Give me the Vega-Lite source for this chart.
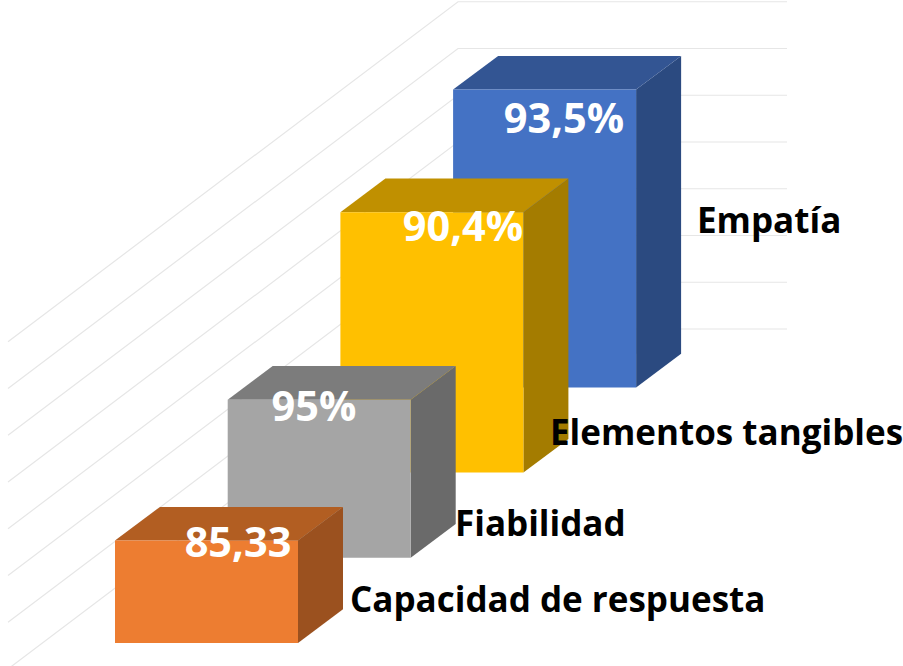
{"$schema":"https://vega.github.io/schema/vega-lite/v6.json","width":903,"height":666,"padding":0,"autosize":"none","background":"white","config":{"view":{"stroke":null}},
"datasets":{"bars":[{"categoria":"Capacidad de respuesta","etiqueta":"85,33","orden":0,"altura":2.19},{"categoria":"Fiabilidad","etiqueta":"95%","orden":1,"altura":3.38},{"categoria":"Elementos tangibles","etiqueta":"90,4%","orden":2,"altura":5.57},{"categoria":"Empatía","etiqueta":"93,5%","orden":3,"altura":6.37}],"grid":[{"nivel":0},{"nivel":1},{"nivel":2},{"nivel":3},{"nivel":4},{"nivel":5},{"nivel":6},{"nivel":7}]},
"layer":[
{"data":{"name":"grid"},"transform":[{"calculate":"0","as":"a"},{"calculate":"1","as":"b"},{"calculate":"2","as":"c"},{"fold":["a","b","c"],"as":["punto","p"]},{"calculate":"[8,458,787][datum.p]","as":"gx"},{"calculate":"329-46.75*datum.nivel+(datum.p==0?340:0)","as":"gy"}],"mark":{"type":"line","color":"#e6e6e6","strokeWidth":1.2,"clip":true},"encoding":{"x":{"field":"gx","type":"quantitative","sort":null,"scale":{"domain":[0,903]},"axis":null},"y":{"field":"gy","type":"quantitative","scale":{"domain":[666,0]},"axis":null},"detail":{"field":"nivel"},"order":{"field":"p"}}},
{"data":{"name":"bars"},"transform":[{"calculate":"0","as":"cerca"},{"calculate":"1","as":"lejos"},{"fold":["cerca","lejos"],"as":["cara","d"]},{"calculate":"115+112.7*datum.orden+45*datum.d","as":"px"},{"calculate":"datum.px+183","as":"pxr"},{"calculate":"643-85.2*datum.orden-33.7*datum.d","as":"py"},{"calculate":"datum.py-datum.altura*46.75","as":"ptop"},{"calculate":"[238,314,463,564][datum.orden]","as":"lx"},{"calculate":"[557,421,241,133][datum.orden]","as":"ly"},{"calculate":"[350,455,550,697][datum.orden]","as":"cx"},{"calculate":"[612,536,445,233][datum.orden]","as":"cy"}],
"layer":[
{"transform":[{"filter":"datum.orden==3"}],"layer":[
{"mark":{"type":"area","orient":"vertical","color":"#2b4a80"},"encoding":{"x":{"field":"pxr","type":"quantitative","scale":{"domain":[0,903]},"axis":null},"y":{"field":"ptop","type":"quantitative","scale":{"domain":[666,0]},"axis":null},"y2":{"field":"py"}}},
{"mark":{"type":"area","orient":"horizontal","color":"#335593"},"encoding":{"y":{"field":"ptop","type":"quantitative","scale":{"domain":[666,0]},"axis":null},"x":{"field":"px","type":"quantitative","scale":{"domain":[0,903]},"axis":null},"x2":{"field":"pxr"}}},
{"transform":[{"filter":"datum.d==0"}],"mark":{"type":"rect","color":"#4472c4"},"encoding":{"x":{"field":"px","type":"quantitative","scale":{"domain":[0,903]},"axis":null},"x2":{"field":"pxr"},"y":{"field":"ptop","type":"quantitative","scale":{"domain":[666,0]},"axis":null},"y2":{"field":"py"}}}]},
{"transform":[{"filter":"datum.orden==2"}],"layer":[
{"mark":{"type":"area","orient":"vertical","color":"#a47c00"},"encoding":{"x":{"field":"pxr","type":"quantitative","scale":{"domain":[0,903]},"axis":null},"y":{"field":"ptop","type":"quantitative","scale":{"domain":[666,0]},"axis":null},"y2":{"field":"py"}}},
{"mark":{"type":"area","orient":"horizontal","color":"#c09000"},"encoding":{"y":{"field":"ptop","type":"quantitative","scale":{"domain":[666,0]},"axis":null},"x":{"field":"px","type":"quantitative","scale":{"domain":[0,903]},"axis":null},"x2":{"field":"pxr"}}},
{"transform":[{"filter":"datum.d==0"}],"mark":{"type":"rect","color":"#ffc000"},"encoding":{"x":{"field":"px","type":"quantitative","scale":{"domain":[0,903]},"axis":null},"x2":{"field":"pxr"},"y":{"field":"ptop","type":"quantitative","scale":{"domain":[666,0]},"axis":null},"y2":{"field":"py"}}}]},
{"transform":[{"filter":"datum.orden==1"}],"layer":[
{"mark":{"type":"area","orient":"vertical","color":"#6a6a6a"},"encoding":{"x":{"field":"pxr","type":"quantitative","scale":{"domain":[0,903]},"axis":null},"y":{"field":"ptop","type":"quantitative","scale":{"domain":[666,0]},"axis":null},"y2":{"field":"py"}}},
{"mark":{"type":"area","orient":"horizontal","color":"#7c7c7c"},"encoding":{"y":{"field":"ptop","type":"quantitative","scale":{"domain":[666,0]},"axis":null},"x":{"field":"px","type":"quantitative","scale":{"domain":[0,903]},"axis":null},"x2":{"field":"pxr"}}},
{"transform":[{"filter":"datum.d==0"}],"mark":{"type":"rect","color":"#a5a5a5"},"encoding":{"x":{"field":"px","type":"quantitative","scale":{"domain":[0,903]},"axis":null},"x2":{"field":"pxr"},"y":{"field":"ptop","type":"quantitative","scale":{"domain":[666,0]},"axis":null},"y2":{"field":"py"}}}]},
{"transform":[{"filter":"datum.orden==0"}],"layer":[
{"mark":{"type":"area","orient":"vertical","color":"#9b511f"},"encoding":{"x":{"field":"pxr","type":"quantitative","scale":{"domain":[0,903]},"axis":null},"y":{"field":"ptop","type":"quantitative","scale":{"domain":[666,0]},"axis":null},"y2":{"field":"py"}}},
{"mark":{"type":"area","orient":"horizontal","color":"#b25e22"},"encoding":{"y":{"field":"ptop","type":"quantitative","scale":{"domain":[666,0]},"axis":null},"x":{"field":"px","type":"quantitative","scale":{"domain":[0,903]},"axis":null},"x2":{"field":"pxr"}}},
{"transform":[{"filter":"datum.d==0"}],"mark":{"type":"rect","color":"#ed7d31"},"encoding":{"x":{"field":"px","type":"quantitative","scale":{"domain":[0,903]},"axis":null},"x2":{"field":"pxr"},"y":{"field":"ptop","type":"quantitative","scale":{"domain":[666,0]},"axis":null},"y2":{"field":"py"}}}]},
{"transform":[{"filter":"datum.d==0"}],"mark":{"type":"text","font":"Open Sans","fontWeight":"bold","fontSize":41.5,"color":"white","align":"center","baseline":"alphabetic"},"encoding":{"x":{"field":"lx","type":"quantitative","scale":{"domain":[0,903]},"axis":null},"y":{"field":"ly","type":"quantitative","scale":{"domain":[666,0]},"axis":null},"text":{"field":"etiqueta"}}},
{"transform":[{"filter":"datum.d==0"}],"mark":{"type":"text","font":"Open Sans","fontWeight":"bold","fontSize":35,"color":"black","align":"left","baseline":"alphabetic"},"encoding":{"x":{"field":"cx","type":"quantitative","scale":{"domain":[0,903]},"axis":null},"y":{"field":"cy","type":"quantitative","scale":{"domain":[666,0]},"axis":null},"text":{"field":"categoria"}}}
]}
]}
